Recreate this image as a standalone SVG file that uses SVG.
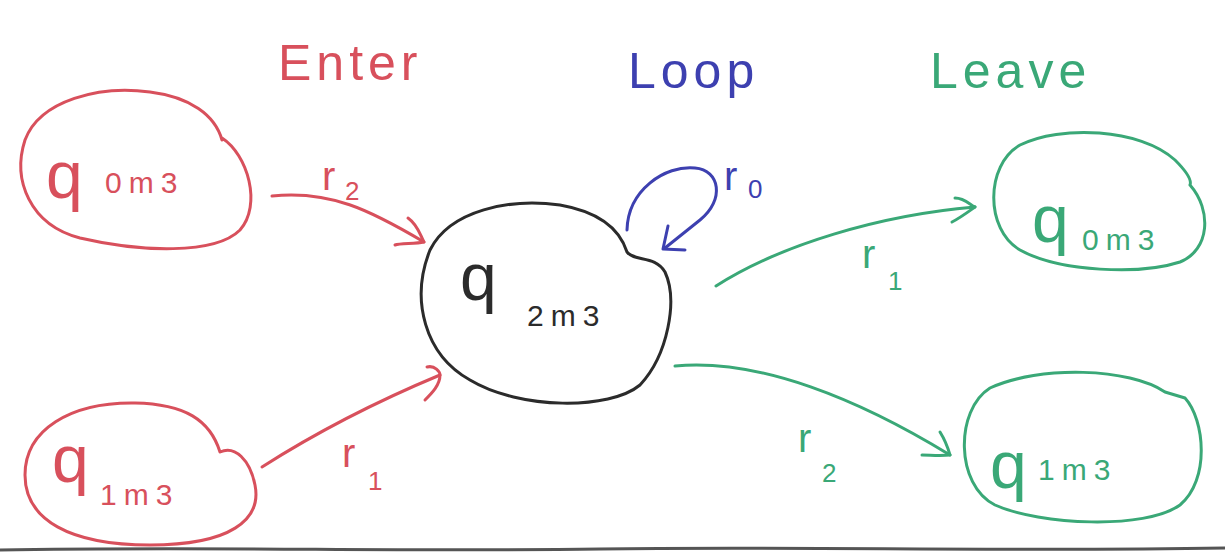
<svg xmlns="http://www.w3.org/2000/svg" width="1225" height="560" viewBox="0 0 1225 560">
<style>
.red{stroke:#d8505c;fill:none;stroke-width:3;stroke-linecap:round;stroke-linejoin:round}
.blue{stroke:#3d40b0;fill:none;stroke-width:3;stroke-linecap:round;stroke-linejoin:round}
.green{stroke:#3aa877;fill:none;stroke-width:3;stroke-linecap:round;stroke-linejoin:round}
.black{stroke:#2b2b2b;fill:none;stroke-width:3;stroke-linecap:round;stroke-linejoin:round}
text{font-family:"Liberation Sans","DejaVu Sans",sans-serif;font-weight:normal}
.tr{fill:#d8505c}.tb{fill:#3d40b0}.tg{fill:#3aa877}.tk{fill:#2b2b2b}
.q{font-size:66px}.sub{font-size:30px;letter-spacing:7px}
.title{font-size:50px;letter-spacing:5px}
.lbl{font-size:40px}.lsub{font-size:26px}
</style>
<rect width="1225" height="560" fill="#ffffff"/>
<g id="title-enter"><text x="278" y="80" class="title tr">Enter</text></g>
<g id="title-loop"><text x="628" y="88" class="title tb">Loop</text></g>
<g id="title-leave"><text x="930" y="88" class="title tg">Leave</text></g>

<g id="node-enter-q0m3">
<path class="red" d="M222,138 C248,155 262,205 240,230 C215,255 140,252 80,238 C30,225 12,180 25,140 C40,100 100,85 150,92 C190,97 215,115 222,140"/>
<text x="46" y="198" class="q tr">q</text><text x="105" y="193" class="sub tr">0m3</text>
</g>
<g id="node-enter-q1m3">
<path class="red" d="M220,452 C235,445 250,460 255,485 C262,520 230,545 150,545 C70,545 25,520 25,475 C25,430 70,402 135,403 C185,404 210,420 220,452 Z"/>
<text x="52" y="482" class="q tr">q</text><text x="100" y="505" class="sub tr">1m3</text>
</g>
<g id="node-loop-q2m3">
<path class="black" d="M627,252 C635,262 655,255 665,272 C678,300 668,355 640,385 C610,410 520,410 470,380 C425,355 410,300 430,250 C450,210 510,198 560,205 C600,212 620,230 627,252 Z"/>
<text x="460" y="300" class="q tk">q</text><text x="527" y="326" class="sub tk">2m3</text>
</g>
<g id="node-leave-q0m3">
<path class="green" d="M1190,185 C1212,210 1210,250 1180,262 C1140,275 1060,272 1020,250 C985,230 985,165 1020,145 C1060,125 1140,128 1175,160 C1185,170 1192,180 1190,185"/>
<text x="1032" y="242" class="q tg">q</text><text x="1082" y="250" class="sub tg">0m3</text>
</g>
<g id="node-leave-q1m3">
<path class="green" d="M1185,398 C1205,420 1210,480 1180,505 C1145,530 1040,525 995,505 C955,485 955,410 990,388 C1040,365 1130,368 1165,392 L1185,398"/>
<text x="990" y="488" class="q tg">q</text><text x="1038" y="480" class="sub tg">1m3</text>
</g>

<g id="connectors">
<path class="red" d="M272,196 C330,190 370,210 424,242"/>
<path class="red" d="M408,218 C418,225 420,235 424,242 C415,244 400,243 395,245"/>
<path class="red" d="M262,467 C320,430 380,400 440,375"/>
<path class="red" d="M427,367 C435,365 440,372 440,375 C440,385 432,393 425,400"/>
<path class="blue" d="M627,230 C628,190 665,165 695,168 C720,170 725,200 700,220 L665,248"/>
<path class="blue" d="M668,226 L663,249 L685,250"/>
<path class="green" d="M716,286 C780,245 880,215 975,207"/>
<path class="green" d="M955,198 C965,198 970,205 975,207 C968,212 960,218 952,222"/>
<path class="green" d="M675,366 C760,358 860,400 950,455"/>
<path class="green" d="M940,432 C945,440 948,448 950,455 C940,456 930,455 922,455"/>
<text x="322" y="190" class="lbl tr">r</text><text x="345" y="200" class="lsub tr">2</text>
<text x="342" y="467" class="lbl tr">r</text><text x="368" y="490" class="lsub tr">1</text>
<text x="724" y="190" class="lbl tb">r</text><text x="748" y="198" class="lsub tb">0</text>
<text x="862" y="268" class="lbl tg">r</text><text x="888" y="290" class="lsub tg">1</text>
<text x="798" y="452" class="lbl tg">r</text><text x="822" y="482" class="lsub tg">2</text>
</g>
<path d="M0,550 C200,546 400,552 600,549 C800,546 1000,552 1225,548" stroke="#555" stroke-width="3" fill="none"/>
</svg>
